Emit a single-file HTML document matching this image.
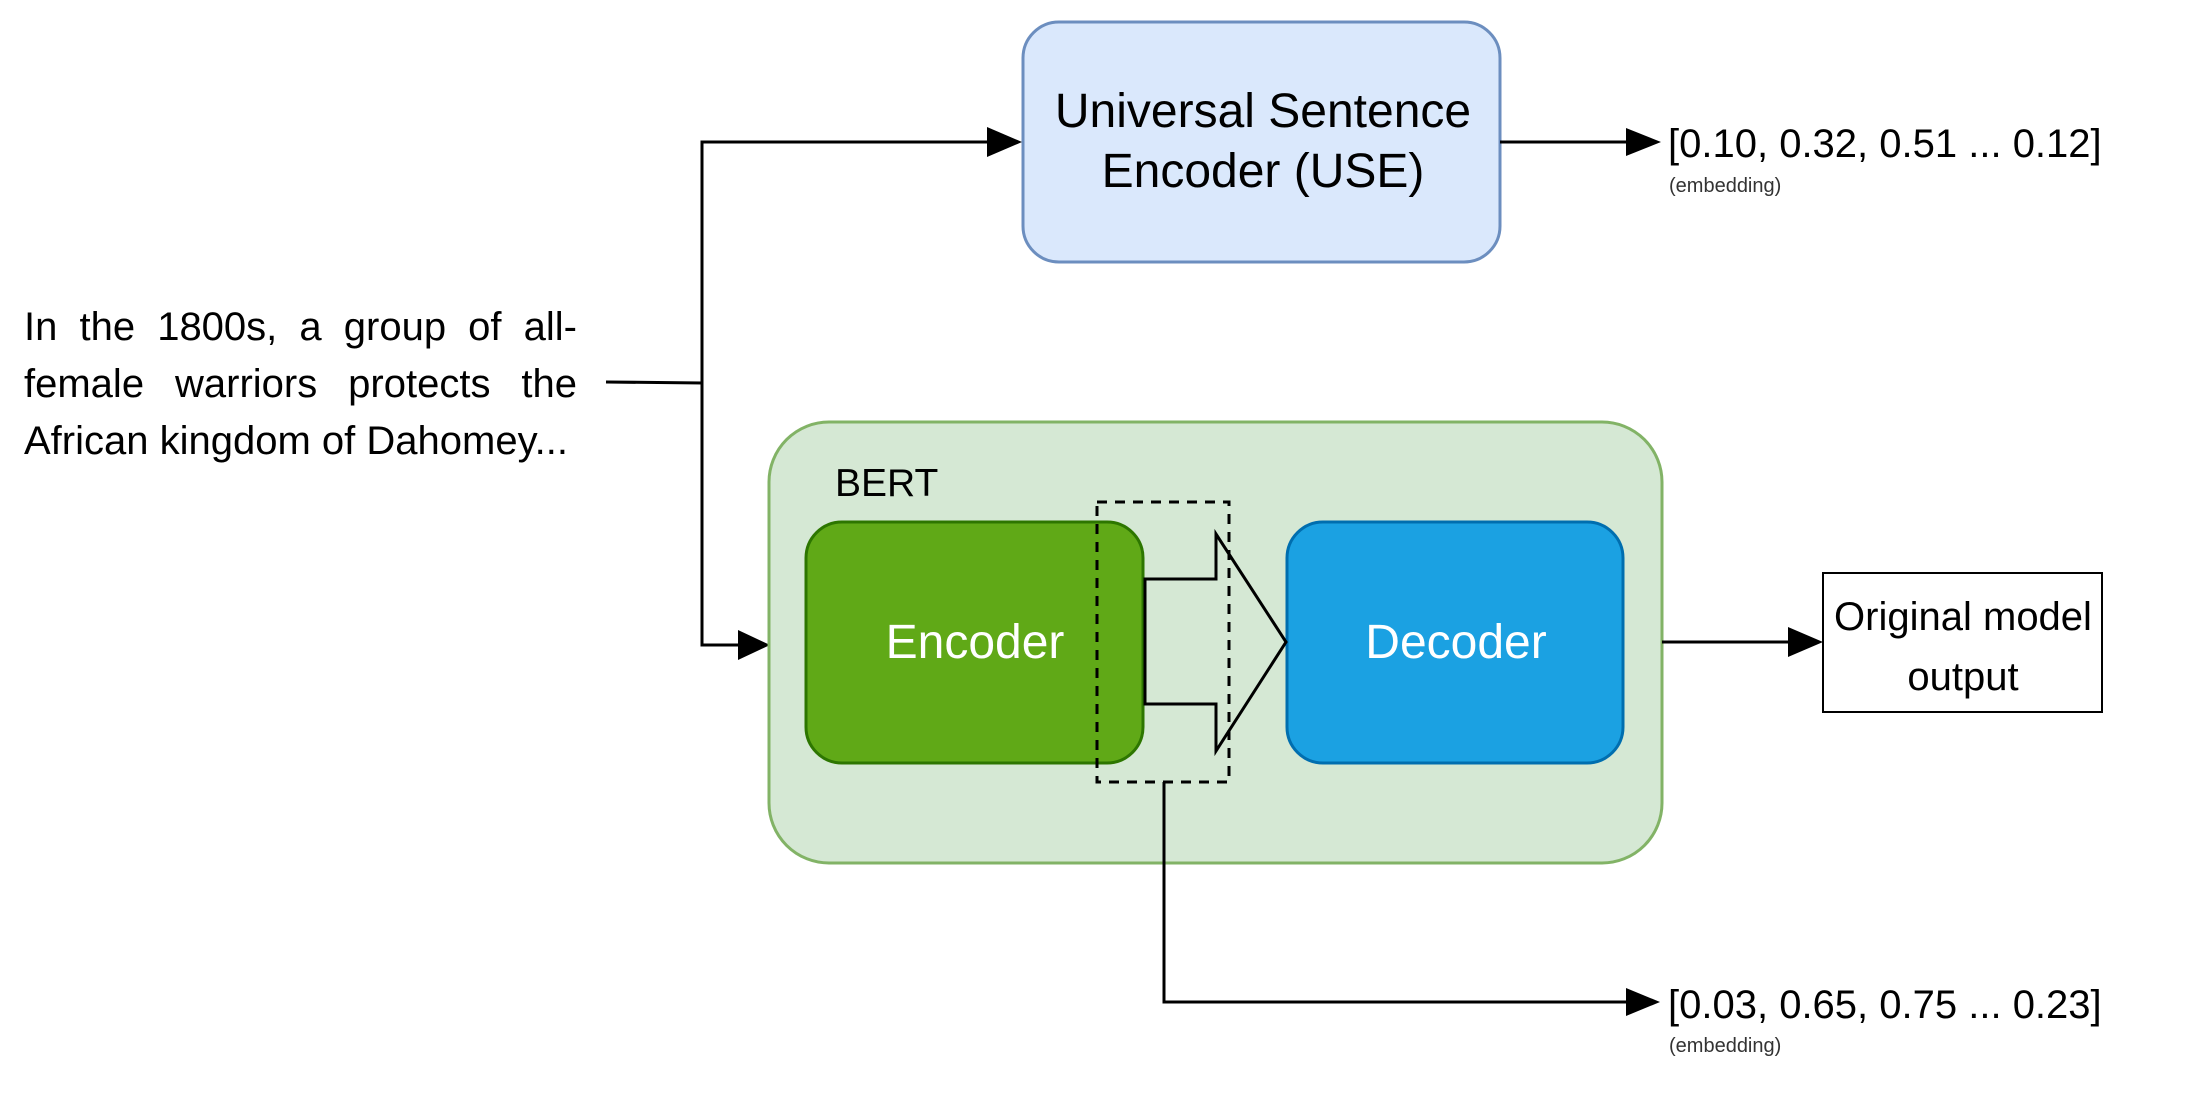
<!DOCTYPE html>
<html><head><meta charset="utf-8"><style>
html,body{margin:0;padding:0;background:#fff;}
svg{display:block;position:absolute;left:0;top:0;}
text{font-family:"Liberation Sans",Arial,sans-serif;}
#intxt{position:absolute;left:24px;top:299px;width:553px;font-family:"Liberation Sans",Arial,sans-serif;font-size:40px;line-height:57px;text-align:justify;color:#000;}
</style></head><body>
<svg width="2204" height="1104" viewBox="0 0 2204 1104" xmlns="http://www.w3.org/2000/svg">
<rect x="0" y="0" width="2204" height="1104" fill="#fff"/>
<rect x="1023" y="22" width="477" height="240" rx="36" fill="#dae8fc" stroke="#6c8ebf" stroke-width="3"/>
<text x="1263" y="127" font-size="48" text-anchor="middle">Universal Sentence</text>
<text x="1263" y="187" font-size="48" text-anchor="middle">Encoder (USE)</text>
<line x1="1500" y1="142" x2="1630" y2="142" stroke="#000" stroke-width="3"/>
<polygon points="1661,142 1626,128 1626,156" fill="#000"/>
<text x="1668" y="157" font-size="40">[0.10, 0.32, 0.51 ... 0.12]</text>
<text x="1669" y="192" font-size="20" fill="#333">(embedding)</text>
<polyline points="606,382 702,383 702,142 992,142" fill="none" stroke="#000" stroke-width="3"/>
<polygon points="1022,142 987,127 987,157" fill="#000"/>
<polyline points="702,383 702,645 745,645" fill="none" stroke="#000" stroke-width="3"/>
<polygon points="770,645 738,630 738,660" fill="#000"/>
<rect x="769" y="422" width="893" height="441" rx="60" fill="#d5e8d4" stroke="#82b366" stroke-width="3"/>
<text x="835" y="496" font-size="39">BERT</text>
<rect x="806" y="522" width="337" height="241" rx="36" fill="#60a917" stroke="#2d7600" stroke-width="3"/>
<text x="975" y="658" font-size="48" fill="#fff" text-anchor="middle">Encoder</text>
<rect x="1287" y="522" width="336" height="241" rx="36" fill="#1ba1e2" stroke="#006eaf" stroke-width="3"/>
<text x="1456" y="658" font-size="48" fill="#fff" text-anchor="middle">Decoder</text>
<polygon points="1145,579 1216,579 1216,534 1286,642 1216,751 1216,704 1145,704" fill="none" stroke="#000" stroke-width="3"/>
<rect x="1097" y="502" width="132" height="280" fill="none" stroke="#000" stroke-width="3" stroke-dasharray="10,8"/>
<polyline points="1164,782 1164,1002 1630,1002" fill="none" stroke="#000" stroke-width="3"/>
<polygon points="1660,1002 1626,988 1626,1016" fill="#000"/>
<text x="1668" y="1018" font-size="40">[0.03, 0.65, 0.75 ... 0.23]</text>
<text x="1669" y="1052" font-size="20" fill="#333">(embedding)</text>
<line x1="1662" y1="642" x2="1795" y2="642" stroke="#000" stroke-width="3"/>
<polygon points="1823,642 1788,627 1788,657" fill="#000"/>
<rect x="1823" y="573" width="279" height="139" fill="#fff" stroke="#000" stroke-width="2"/>
<text x="1963" y="630" font-size="40" text-anchor="middle">Original model</text>
<text x="1963" y="690" font-size="40" text-anchor="middle">output</text>
</svg>
<div id="intxt">In the 1800s, a group of all-female warriors protects the African kingdom of Dahomey...</div>
</body></html>
